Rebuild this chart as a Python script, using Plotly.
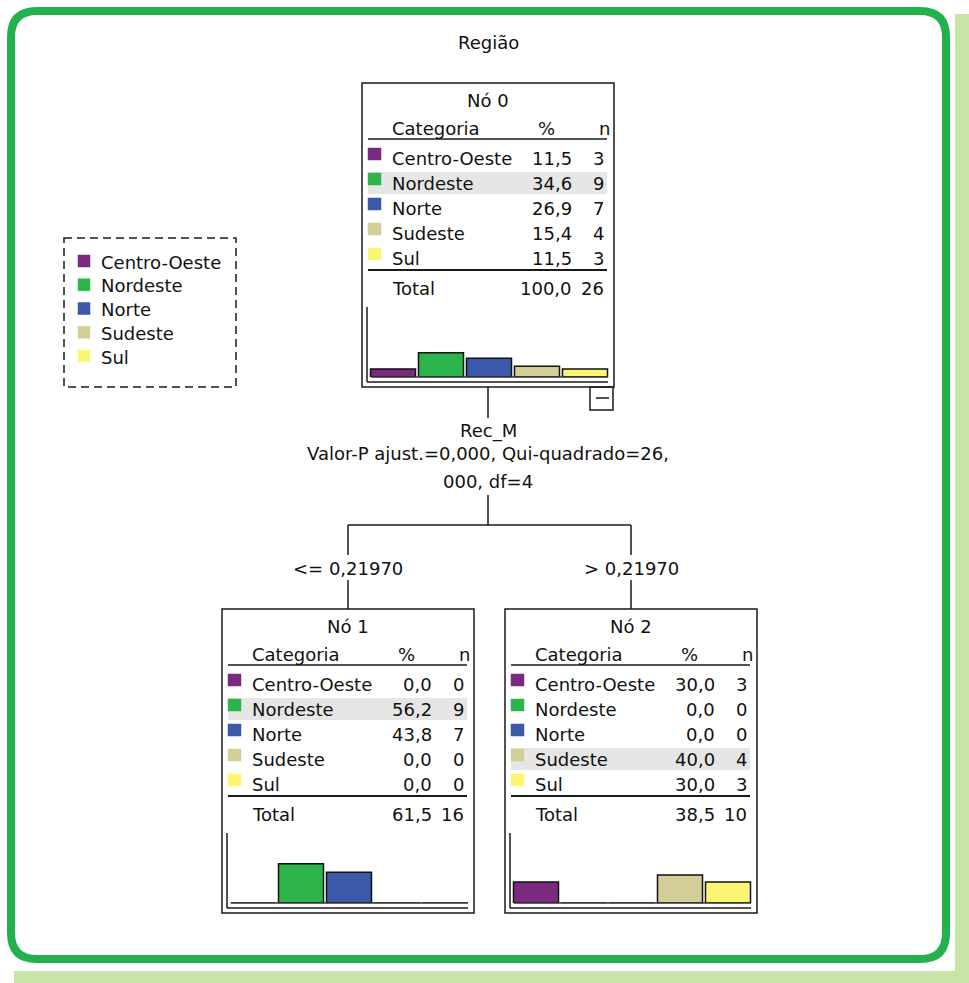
import plotly.graph_objects as go

# ---------------- data ----------------
categories = ["Centro-Oeste", "Nordeste", "Norte", "Sudeste", "Sul"]
cat_colors = ["#7B2A80", "#2DB54B", "#3B58AA", "#D3CE98", "#FBF574"]

node_titles = ["Nó 0", "Nó 1", "Nó 2"]
node0_pct = [11.5, 34.6, 26.9, 15.4, 11.5]
node0_n = [3, 9, 7, 4, 3]
node1_pct = [0.0, 56.2, 43.8, 0.0, 0.0]
node1_n = [0, 9, 7, 0, 0]
node2_pct = [30.0, 0.0, 0.0, 40.0, 30.0]
node2_n = [3, 0, 0, 4, 3]
node_total_pct = [100.0, 61.5, 38.5]
node_total_n = [26, 16, 10]

tree_title = "Região"
split_variable = "Rec_M"
split_stats = ["Valor-P ajust.=0,000, Qui-quadrado=26,", "000, df=4"]
split_labels = ["<= 0,21970", "> 0,21970"]
header_labels = ["Categoria", "%", "n"]
total_label = "Total"

# ---------------- layout constants ----------------
W, H = 969, 983
FONT = "DejaVu Sans"
FS = 18
TXT = "#111111"
LINE = "#1a1a1a"
NODE_POS = [(362, 83), (222, 609), (505, 609)]
NODE_W, NODE_H = 252, 304

node_pcts = [node0_pct, node1_pct, node2_pct]
node_ns = [node0_n, node1_n, node2_n]


def fmt(v):
    return f"{v:.1f}".replace(".", ",")


shapes = []
annotations = []


def text(x, y, s, anchor="center", size=FS):
    annotations.append(dict(x=x, y=y, xref="x", yref="y", text=s, showarrow=False,
                            xanchor=anchor, yanchor="middle",
                            font=dict(family=FONT, size=size, color=TXT)))


def line(x0, y0, x1, y1, w=1.5, color=LINE, dash=None):
    d = dict(type="line", x0=x0, y0=y0, x1=x1, y1=y1, xref="x", yref="y",
             line=dict(color=color, width=w))
    if dash:
        d["line"]["dash"] = dash
    shapes.append(d)


def rect(x0, y0, x1, y1, fill=None, lc=LINE, w=1.5, layer="above", dash=None):
    d = dict(type="rect", x0=x0, y0=y0, x1=x1, y1=y1, xref="x", yref="y",
             line=dict(color=lc, width=w), layer=layer)
    if fill:
        d["fillcolor"] = fill
    if dash:
        d["line"]["dash"] = dash
    shapes.append(d)


# outer shadow strips and green rounded frame
rect(14, 971, 969, 983, fill="#C8E4A6", w=0, layer="below")
rect(955, 14, 969, 983, fill="#C8E4A6", w=0, layer="below")
x0, y0, x1, y1, r = 11, 11, 946, 959, 26
frame = (f"M {x0+r},{y0} L {x1-r},{y0} Q {x1},{y0} {x1},{y0+r} L {x1},{y1-r} "
         f"Q {x1},{y1} {x1-r},{y1} L {x0+r},{y1} Q {x0},{y1} {x0},{y1-r} "
         f"L {x0},{y0+r} Q {x0},{y0} {x0+r},{y0} Z")
shapes.append(dict(type="path", path=frame, xref="x", yref="y",
                   line=dict(color="#22B14C", width=8)))

# title
text(488, 42, tree_title)

# nodes
fig = go.Figure()
for k, (L, T) in enumerate(NODE_POS):
    pct = node_pcts[k]
    ns = node_ns[k]
    rect(L, T, L + NODE_W, T + NODE_H)
    text(L + 126, T + 17, node_titles[k])
    text(L + 28, T + 45, header_labels[0], "left")
    text(L + 184, T + 45, header_labels[1])
    text(L + 250, T + 45, header_labels[2], "right")
    line(L + 6, T + 56, L + 245, T + 56)
    mode_i = max(range(len(pct)), key=lambda i: pct[i])
    for i, cat in enumerate(categories):
        ry = T + 75 + 25 * i
        if i == mode_i:
            rect(L + 6, ry - 11, L + 245, ry + 11, fill="#E6E6E6", w=0, layer="below")
        rect(L + 6, ry - 10, L + 19, ry + 2, fill=cat_colors[i], lc=cat_colors[i], w=0.5)
        text(L + 28, ry, cat, "left")
        text(L + 212, ry, fmt(pct[i]), "right")
        text(L + 244, ry, str(ns[i]), "right")
    line(L + 6, T + 187, L + 245, T + 187, w=2)
    text(L + 28, T + 205, total_label, "left")
    text(L + 212, T + 205, fmt(node_total_pct[k]), "right")
    text(L + 244, T + 205, str(node_total_n[k]), "right")
    # histogram frame
    line(L + 5, T + 224, L + 5, T + 299)
    line(L + 5, T + 299, L + 246, T + 299)
    line(L + 9, T + 294, L + 246, T + 294, w=1.5, color="#333333")
    ax = k + 2
    fig.add_trace(go.Bar(x=categories, y=pct, marker=dict(color=cat_colors,
                         line=dict(color="#111111", width=1.5)),
                         xaxis=f"x{ax}", yaxis=f"y{ax}", showlegend=False,
                         hoverinfo="skip"))
    fig.update_layout(**{
        f"xaxis{ax}": dict(domain=[(L + 7) / W, (L + 247) / W], visible=False,
                           range=[-0.5, 4.5], anchor=f"y{ax}", fixedrange=True),
        f"yaxis{ax}": dict(domain=[1 - (T + 294) / H, 1 - (T + 224) / H], visible=False,
                           range=[0, 100], anchor=f"x{ax}", fixedrange=True),
    })

# collapse box on node 0
L, T = NODE_POS[0]
rect(L + 228, T + 304, L + 251, T + 327)
line(L + 234, T + 315, L + 247, T + 315)

# connectors
cx0 = NODE_POS[0][0] + NODE_W / 2
cx1 = NODE_POS[1][0] + NODE_W / 2
cx2 = NODE_POS[2][0] + NODE_W / 2
line(cx0, 387, cx0, 418)
text(cx0, 431, split_variable)
text(cx0, 453, split_stats[0])
text(cx0, 481, split_stats[1])
line(cx0, 495, cx0, 525)
line(cx1, 525, cx2, 525)
line(cx1, 525, cx1, 555)
line(cx2, 525, cx2, 555)
text(cx1, 568, split_labels[0])
text(cx2, 568, split_labels[1])
line(cx1, 580, cx1, 609)
line(cx2, 580, cx2, 609)

# legend
rect(64, 238, 236, 387, dash="8px,5px")
for i, cat in enumerate(categories):
    ry = 262 + 23.75 * i
    rect(78, ry - 7, 90, ry + 5, fill=cat_colors[i], lc=cat_colors[i], w=0.5)
    text(99, ry, cat, "left")

fig.update_layout(
    width=W, height=H, margin=dict(l=0, r=0, t=0, b=0),
    paper_bgcolor="white", plot_bgcolor="rgba(0,0,0,0)",
    xaxis=dict(range=[0, W], visible=False, domain=[0, 1], fixedrange=True),
    yaxis=dict(range=[H, 0], visible=False, domain=[0, 1], fixedrange=True),
    bargap=0.0625, showlegend=False,
    shapes=shapes, annotations=annotations,
)
fig.write_html("out.html", include_plotlyjs=True, config={"displayModeBar": False},
               post_script="document.body.style.margin='0';")
